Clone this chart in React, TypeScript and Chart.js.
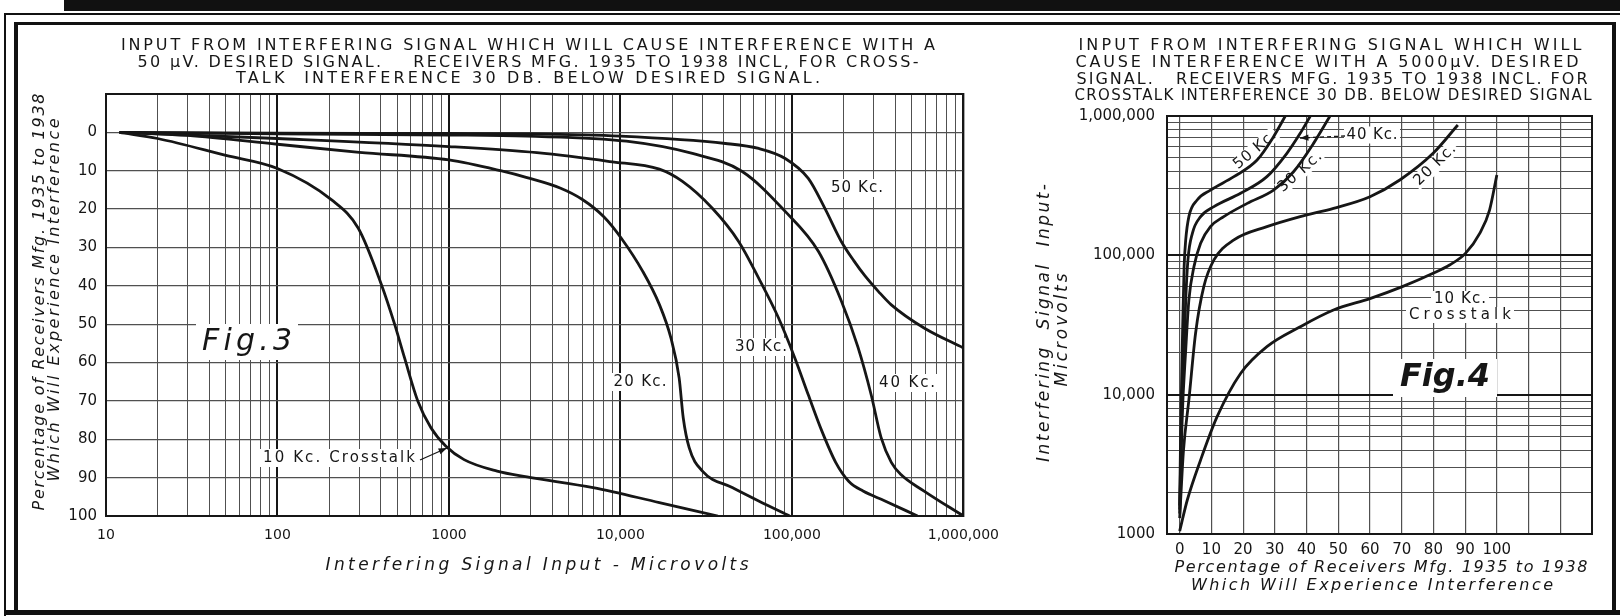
import React, { useEffect, useRef } from 'react';
import { Chart, registerables } from 'chart.js';

Chart.register(...registerables);

const FONT = '"DejaVu Sans", "Liberation Sans", sans-serif';
const INK = '#161616';
const GRID = '#505050';

// ---------- Fig. 3 : x = interfering signal input (microvolts), y = % of receivers ----------
const F3_KC10_X = [12, 20, 50, 100, 207, 296, 404, 482, 551, 658, 785, 960, 1225, 1909, 2851, 6930, 16870, 37000];
const F3_KC10_Y = [0, 1.6, 6.0, 9.4, 17.6, 25, 39.7, 50, 58.8, 70, 77, 81.8, 85.3, 88.3, 89.8, 92.6, 96.5, 100];

const F3_KC20_X = [12, 30, 100, 300, 1000, 2000, 2851, 4446, 6000, 8000, 10120, 13520, 16880, 19700, 22000, 23240, 25170, 30080, 44870, 64000, 97000];
const F3_KC20_Y = [0, 0.8, 3.1, 5.2, 7.2, 10, 11.8, 14.5, 17.5, 22, 27.6, 36.3, 44.9, 53.6, 64, 74.4, 82.2, 88.3, 92.6, 96.1, 100];

const F3_KC30_X = [12, 100, 1000, 3258, 8650, 16880, 23000, 34350, 49000, 64000, 83600, 104000, 124600, 150000, 180000, 215000, 260000, 346500, 540000];
const F3_KC30_Y = [0, 1.6, 3.7, 5.3, 7.6, 9.6, 12.8, 19.8, 28.5, 38, 48.4, 58.8, 68.4, 78, 86, 91, 93.5, 96, 100];

const F3_KC40_X = [12, 100, 1000, 2851, 10820, 26300, 51300, 91400, 142600, 194500, 242800, 289900, 331000, 380000, 432300, 590000, 1000000];
const F3_KC40_Y = [0, 0.4, 0.7, 1.0, 2.3, 5.5, 10.2, 20.6, 31, 44, 56, 68.4, 79.5, 86, 89.2, 93.5, 100];

const F3_KC50_X = [12, 100, 1000, 2851, 10000, 41000, 64000, 91400, 124600, 155700, 194500, 230000, 265500, 320000, 378600, 590000, 1000000];
const F3_KC50_Y = [0, 0.2, 0.3, 0.4, 1.0, 2.9, 4.2, 6.8, 12, 19.8, 28.5, 33.5, 37.3, 41.5, 44.9, 51, 56.2];

const F3_Y_TICKS = [-10, 0, 10, 20, 30, 40, 50, 60, 70, 80, 90, 100];
const F3_X_DECADES = [10, 100, 1000, 10000, 100000, 1000000];
const F3_X_LABELS = ['10', '100', '1000', '10,000', '100,000', '1,000,000'];

// ---------- Fig. 4 : x = % of receivers, y = interfering signal input (microvolts) ----------
const F4_KC10_X = [0, 2.4, 6.6, 11.8, 19.2, 27.5, 38, 48.5, 60.2, 70.2, 79.9, 85.1, 90.1, 94.6, 97.7, 100];
const F4_KC10_Y = [1050, 1754, 3400, 6950, 14200, 22100, 30700, 40500, 49100, 59600, 74300, 85300, 103300, 143800, 211500, 377500];

const F4_KC20_X = [0, 1.2, 2.9, 5.0, 7.6, 10.8, 17.1, 27.5, 38, 48.5, 60, 69.4, 79.9, 87.7];
const F4_KC20_Y = [1300, 4000, 9160, 27500, 59600, 92700, 128900, 160600, 189600, 217500, 263600, 347400, 539700, 861600];

const F4_KC30_X = [0, 0.8, 1.9, 2.9, 4.5, 6.6, 9.7, 13.9, 21.3, 29.6, 35.9, 42.2, 47.4];
const F4_KC30_Y = [1400, 6950, 20900, 47800, 83000, 122000, 160600, 189600, 236000, 294000, 398000, 636000, 1000000];

const F4_KC40_X = [0, 0.5, 1.2, 1.9, 2.6, 4.0, 6.6, 10.8, 19.2, 27.5, 33.8, 38.0, 41.2];
const F4_KC40_Y = [1500, 5270, 15900, 47800, 92700, 143800, 189600, 223600, 278800, 367000, 540000, 751000, 1000000];

const F4_KC50_X = [0, 0.3, 0.9, 1.4, 1.9, 2.9, 5.5, 9.7, 17.1, 24.4, 29.6, 33.3];
const F4_KC50_Y = [1600, 5270, 27500, 83000, 128900, 189600, 249500, 294000, 367000, 483000, 711000, 1000000];

const F4_X_TICKS = [0, 10, 20, 30, 40, 50, 60, 70, 80, 90, 100, 110, 120];
const F4_X_LABELS = ['0', '10', '20', '30', '40', '50', '60', '70', '80', '90', '100'];
const F4_Y_DECADES = [1000, 10000, 100000, 1000000];
const F4_Y_LABELS = ['1000', '10,000', '100,000', '1,000,000'];

// ---------- helpers ----------
const zip = (xs: number[], ys: number[]) => xs.map((x, i) => ({ x, y: ys[i] }));

const logGrid = (decades: number[]) => {
  const out: number[] = [];
  for (let i = 0; i < decades.length - 1; i++) {
    for (let m = 1; m <= 9; m++) out.push(m * decades[i]);
  }
  out.push(decades[decades.length - 1]);
  return out;
};

type Txt = { text: string; x: number; y: number; w?: number; font: string; rot?: number; bg?: [number, number] };

function drawText(ctx: CanvasRenderingContext2D, t: Txt) {
  ctx.save();
  ctx.font = t.font;
  ctx.fillStyle = INK;
  ctx.textBaseline = 'middle';
  ctx.textAlign = 'center';
  const m = ctx.measureText(t.text).width;
  ctx.translate(t.x, t.y);
  if (t.rot) ctx.rotate(t.rot);
  const anyCtx = ctx as any;
  if (t.w && t.w > m && t.text.length > 1 && 'letterSpacing' in anyCtx) {
    const ls = (t.w - m) / (t.text.length - 1);
    anyCtx.letterSpacing = ls + 'px';
    ctx.fillText(t.text, ls / 2, 0);
  } else if (t.w) {
    ctx.scale(t.w / m, 1);
    ctx.fillText(t.text, 0, 0);
  } else {
    ctx.fillText(t.text, 0, 0);
  }
  ctx.restore();
}

function drawBg(ctx: CanvasRenderingContext2D, t: Txt) {
  if (!t.bg) return;
  ctx.save();
  ctx.translate(t.x, t.y);
  if (t.rot) ctx.rotate(t.rot);
  ctx.fillStyle = '#ffffff';
  ctx.fillRect(-t.bg[0] / 2, -t.bg[1] / 2, t.bg[0], t.bg[1]);
  ctx.restore();
}

function drawArrow(ctx: CanvasRenderingContext2D, x1: number, y1: number, x2: number, y2: number, dashed: boolean) {
  ctx.save();
  ctx.strokeStyle = INK;
  ctx.fillStyle = INK;
  ctx.lineWidth = 1.3;
  if (dashed) ctx.setLineDash([4, 3]);
  ctx.beginPath();
  ctx.moveTo(x1, y1);
  ctx.lineTo(x2, y2);
  ctx.stroke();
  ctx.setLineDash([]);
  const a = Math.atan2(y2 - y1, x2 - x1);
  ctx.beginPath();
  ctx.moveTo(x2, y2);
  ctx.lineTo(x2 - 9 * Math.cos(a - 0.35), y2 - 9 * Math.sin(a - 0.35));
  ctx.lineTo(x2 - 9 * Math.cos(a + 0.35), y2 - 9 * Math.sin(a + 0.35));
  ctx.closePath();
  ctx.fill();
  ctx.restore();
}

const framePlugin = {
  id: 'plotFrame',
  afterDraw(chart: any) {
    const { ctx, chartArea } = chart;
    ctx.save();
    ctx.strokeStyle = INK;
    ctx.lineWidth = 2;
    ctx.strokeRect(chartArea.left, chartArea.top, chartArea.right - chartArea.left, chartArea.bottom - chartArea.top);
    ctx.restore();
  },
};

const makeTextPlugin = (id: string, texts: Txt[], arrows: [number, number, number, number, boolean][]) => ({
  id,
  beforeDatasetsDraw(chart: any) {
    texts.forEach((t) => drawBg(chart.ctx, t));
  },
  afterDraw(chart: any) {
    texts.forEach((t) => drawText(chart.ctx, t));
    arrows.forEach((a) => drawArrow(chart.ctx, a[0], a[1], a[2], a[3], a[4]));
  },
});

const TITLE = `16px ${FONT}`;
const LBL = `15px ${FONT}`;
const ITAL = `italic 17px ${FONT}`;

const fig3Texts: Txt[] = [
  { text: 'INPUT FROM INTERFERING SIGNAL WHICH WILL CAUSE INTERFERENCE WITH A', x: 528, y: 46, w: 814, font: TITLE },
  { text: '50 µV. DESIRED SIGNAL.    RECEIVERS MFG. 1935 TO 1938 INCL, FOR CROSS-', x: 528, y: 63, w: 781, font: TITLE },
  { text: 'TALK  INTERFERENCE 30 DB. BELOW DESIRED SIGNAL.', x: 528, y: 79, w: 584, font: TITLE },
  { text: 'Percentage of Receivers Mfg. 1935 to 1938', x: 40, y: 302, w: 417, font: `italic 16px ${FONT}`, rot: -Math.PI / 2 },
  { text: 'Which Will Experience Interference', x: 55, y: 300, w: 363, font: `italic 16px ${FONT}`, rot: -Math.PI / 2 },
  { text: 'Interfering Signal Input - Microvolts', x: 537, y: 566, w: 423, font: ITAL },
  { text: 'Fig.3', x: 247, y: 342, w: 90, font: `italic 30px ${FONT}`, bg: [102, 36] },
  { text: '50 Kc.', x: 857, y: 188, w: 52, font: LBL, bg: [60, 18] },
  { text: '40 Kc.', x: 907, y: 383, w: 56, font: LBL, bg: [62, 18] },
  { text: '30 Kc.', x: 761, y: 347, w: 52, font: LBL, bg: [58, 18] },
  { text: '20 Kc.', x: 640, y: 382, w: 53, font: LBL, bg: [60, 18] },
  { text: '10 Kc. Crosstalk', x: 339, y: 458, w: 152, font: LBL, bg: [158, 18] },
];
const fig3Arrows: [number, number, number, number, boolean][] = [[420, 460, 447, 448, false]];

const fig4Texts: Txt[] = [
  { text: 'INPUT FROM INTERFERING SIGNAL WHICH WILL', x: 330, y: 46, w: 503, font: TITLE },
  { text: 'CAUSE INTERFERENCE WITH A 5000µV. DESIRED', x: 327, y: 63, w: 503, font: TITLE },
  { text: 'SIGNAL.   RECEIVERS MFG. 1935 TO 1938 INCL. FOR', x: 332, y: 79.5, w: 511, font: TITLE },
  { text: 'CROSSTALK INTERFERENCE 30 DB. BELOW DESIRED SIGNAL', x: 333, y: 96, w: 517, font: `15px ${FONT}` },
  { text: 'Interfering  Signal  Input-', x: 45, y: 323, w: 278, font: ITAL, rot: -Math.PI / 2 },
  { text: 'Microvolts', x: 63, y: 330, w: 113, font: ITAL, rot: -Math.PI / 2 },
  { text: 'Percentage of Receivers Mfg. 1935 to 1938', x: 381, y: 568, w: 413, font: `italic 16px ${FONT}` },
  { text: 'Which Will Experience Interference', x: 372, y: 586, w: 362, font: `italic 16px ${FONT}` },
  { text: '40 Kc.', x: 372, y: 135, w: 51, font: LBL, bg: [56, 17] },
  { text: '50 Kc.', x: 255, y: 150, w: 51, font: LBL, rot: -0.7, bg: [54, 15] },
  { text: '30 Kc.', x: 300, y: 172, w: 53, font: LBL, rot: -0.72, bg: [56, 15] },
  { text: '20 Kc.', x: 435, y: 165, w: 52, font: LBL, rot: -0.77, bg: [56, 15] },
  { text: '10 Kc.', x: 460, y: 299, w: 52, font: LBL, bg: [58, 16] },
  { text: 'Crosstalk', x: 460, y: 315, w: 102, font: LBL, bg: [108, 16] },
  { text: 'Fig.4', x: 445, y: 378, w: 90, font: `italic bold 32px ${FONT}`, bg: [104, 38] },
];
const fig4Arrows: [number, number, number, number, boolean][] = [[345, 136, 300, 138, true]];

const lineDataset = (xs: number[], ys: number[]) => ({
  data: zip(xs, ys),
  borderColor: INK,
  borderWidth: 2.8,
  pointRadius: 0,
  fill: false,
  cubicInterpolationMode: 'monotone' as const,
});

function fig3Config(): any {
  const xGrid = logGrid(F3_X_DECADES);
  return {
    type: 'line',
    data: {
      datasets: [
        lineDataset(F3_KC10_X, F3_KC10_Y),
        lineDataset(F3_KC20_X, F3_KC20_Y),
        lineDataset(F3_KC30_X, F3_KC30_Y),
        lineDataset(F3_KC40_X, F3_KC40_Y),
        lineDataset(F3_KC50_X, F3_KC50_Y),
      ],
    },
    options: {
      animation: false,
      responsive: false,
      events: [],
      layout: { padding: { left: 0, top: 94, right: 41, bottom: 0 } },
      plugins: { legend: { display: false }, tooltip: { enabled: false }, title: { display: false } },
      scales: {
        x: {
          type: 'logarithmic',
          min: 10,
          max: 1000000,
          afterBuildTicks: (s: any) => { s.ticks = xGrid.map((v) => ({ value: v })); },
          afterFit: (s: any) => { s.height = 100; },
          border: { display: false },
          grid: {
            color: (c: any) => (c.tick && F3_X_DECADES.includes(c.tick.value) ? INK : GRID),
            lineWidth: (c: any) => (c.tick && F3_X_DECADES.includes(c.tick.value) ? 2 : 1),
            drawTicks: false,
          },
          ticks: {
            autoSkip: false,
            maxRotation: 0,
            minRotation: 0,
            padding: 11,
            color: INK,
            font: { family: FONT, size: 14 },
            callback: (v: number) => {
              const i = F3_X_DECADES.indexOf(v);
              return i >= 0 ? F3_X_LABELS[i] : '';
            },
          },
        },
        y: {
          type: 'linear',
          min: -10,
          max: 100,
          reverse: true,
          afterBuildTicks: (s: any) => { s.ticks = F3_Y_TICKS.map((v) => ({ value: v })); },
          afterFit: (s: any) => { s.width = 106; },
          border: { display: false },
          grid: { color: GRID, lineWidth: 1.2, drawTicks: false },
          ticks: {
            padding: 9,
            color: INK,
            font: { family: FONT, size: 15 },
            callback: (v: number) => (v < 0 ? '' : String(v)),
          },
        },
      },
    },
    plugins: [framePlugin, makeTextPlugin('fig3Text', fig3Texts, fig3Arrows)],
  };
}

function fig4Config(): any {
  const yGrid = logGrid(F4_Y_DECADES);
  return {
    type: 'line',
    data: {
      datasets: [
        lineDataset(F4_KC10_X, F4_KC10_Y),
        lineDataset(F4_KC20_X, F4_KC20_Y),
        lineDataset(F4_KC30_X, F4_KC30_Y),
        lineDataset(F4_KC40_X, F4_KC40_Y),
        lineDataset(F4_KC50_X, F4_KC50_Y),
      ],
    },
    options: {
      animation: false,
      responsive: false,
      events: [],
      layout: { padding: { left: 0, top: 116, right: 28, bottom: 0 } },
      plugins: { legend: { display: false }, tooltip: { enabled: false }, title: { display: false } },
      scales: {
        x: {
          type: 'linear',
          min: -4,
          max: 130,
          afterBuildTicks: (s: any) => { s.ticks = F4_X_TICKS.map((v) => ({ value: v })); },
          afterFit: (s: any) => { s.height = 82; },
          border: { display: false },
          grid: { color: GRID, lineWidth: 1.2, drawTicks: false },
          ticks: {
            autoSkip: false,
            maxRotation: 0,
            minRotation: 0,
            padding: 7,
            color: INK,
            font: { family: FONT, size: 15 },
            callback: (v: number) => {
              const i = F4_X_TICKS.indexOf(v);
              return i >= 0 && i < F4_X_LABELS.length ? F4_X_LABELS[i] : '';
            },
          },
        },
        y: {
          type: 'logarithmic',
          min: 1000,
          max: 1000000,
          afterBuildTicks: (s: any) => { s.ticks = yGrid.map((v) => ({ value: v })); },
          afterFit: (s: any) => { s.width = 167; },
          border: { display: false },
          grid: {
            color: (c: any) => (c.tick && F4_Y_DECADES.includes(c.tick.value) ? INK : GRID),
            lineWidth: (c: any) => (c.tick && F4_Y_DECADES.includes(c.tick.value) ? 2 : 1),
            drawTicks: false,
          },
          ticks: {
            autoSkip: false,
            padding: 12,
            color: INK,
            font: { family: FONT, size: 15 },
            callback: (v: number) => {
              const i = F4_Y_DECADES.indexOf(v);
              return i >= 0 ? F4_Y_LABELS[i] : '';
            },
          },
        },
      },
    },
    plugins: [framePlugin, makeTextPlugin('fig4Text', fig4Texts, fig4Arrows)],
  };
}

const bar = (left: number, top: number, width: number, height: number): React.CSSProperties => ({
  position: 'absolute', left, top, width, height, background: '#111',
});

export default function App() {
  const leftRef = useRef<HTMLCanvasElement>(null);
  const rightRef = useRef<HTMLCanvasElement>(null);

  useEffect(() => {
    const c1 = new Chart(leftRef.current as HTMLCanvasElement, fig3Config());
    const c2 = new Chart(rightRef.current as HTMLCanvasElement, fig4Config());
    return () => {
      c1.destroy();
      c2.destroy();
    };
  }, []);

  return (
    <div style={{ position: 'absolute', left: 0, top: 0, width: 1620, height: 616, background: '#fff', overflow: 'hidden' }}>
      <div style={bar(64, 0, 1556, 11)} />
      <div style={bar(5, 13, 1615, 2)} />
      <div style={bar(15, 22, 1601, 3)} />
      <div style={bar(4, 13, 2, 603)} />
      <div style={bar(14, 22, 4, 592)} />
      <div style={bar(1612, 22, 4, 592)} />
      <div style={bar(4, 610, 1616, 5)} />
      <canvas ref={leftRef} width={1010} height={616} style={{ position: 'absolute', left: 0, top: 0 }} />
      <canvas ref={rightRef} width={620} height={616} style={{ position: 'absolute', left: 1000, top: 0 }} />
    </div>
  );
}
